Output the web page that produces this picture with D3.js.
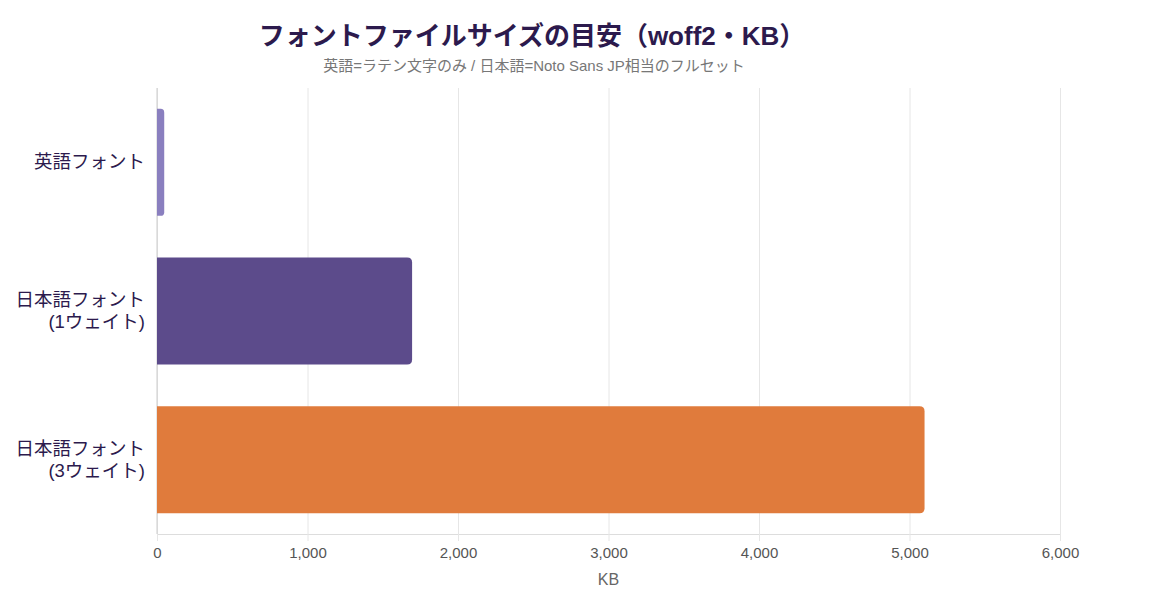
<!DOCTYPE html>
<html lang="ja">
<head>
<meta charset="UTF-8">
<title>フォントファイルサイズの目安</title>
<style>
    body {
        margin: 0;
        background: #fff;
        font-family: "Liberation Sans", Arial, "Noto Sans CJK JP", sans-serif;
    }
    .grid line { stroke: #e6e6e6; }
    .grid path { display: none; }
</style>
<script src="https://d3js.org/d3.v7.min.js"></script>
</head>
<body>
<svg id="chart" width="1150" height="600"></svg>
<script>
    // data
    const categories = [["英語フォント"], ["日本語フォント", "(1ウェイト)"], ["日本語フォント", "(3ウェイト)"]];
    const sizesKB = [48, 1695, 5100];
    const barColors = ["#8a7fbf", "#5c4b8b", "#e07b3c"];
    const xTicks = [0, 1000, 2000, 3000, 4000, 5000, 6000];

    const width = 1150, height = 600;
    const margin = { top: 88, right: 90, bottom: 66, left: 157 };
    const innerW = width - margin.left - margin.right;
    const innerH = height - margin.top - margin.bottom;

    const svg = d3.select("#chart");

    svg.append("text")
        .attr("x", 532).attr("y", 45)
        .attr("text-anchor", "middle")
        .attr("font-size", 26).attr("font-weight", "bold")
        .attr("fill", "#2c1a4d")
        .text("フォントファイルサイズの目安（woff2・KB）");

    svg.append("text")
        .attr("x", 534).attr("y", 71)
        .attr("text-anchor", "middle")
        .attr("font-size", 15)
        .attr("fill", "#777")
        .text("英語=ラテン文字のみ / 日本語=Noto Sans JP相当のフルセット");

    const g = svg.append("g").attr("transform", `translate(${margin.left},${margin.top})`);

    const x = d3.scaleLinear().domain([0, 6000]).range([0, innerW]);
    const y = d3.scaleBand()
        .domain(d3.range(categories.length))
        .range([0, innerH])
        .paddingInner(0.28)
        .paddingOuter(0.14);

    // vertical grid lines
    g.append("g").attr("class", "grid")
        .call(d3.axisBottom(x).tickValues(xTicks).tickSize(innerH).tickFormat(""));

    // x axis
    const xAxis = g.append("g")
        .attr("transform", `translate(0,${innerH})`)
        .call(d3.axisBottom(x).tickValues(xTicks).tickSize(7).tickPadding(6).tickFormat(d3.format(",")));
    xAxis.select(".domain").attr("stroke", "#ddd");
    xAxis.selectAll(".tick line").attr("stroke", "#e6e6e6");
    xAxis.selectAll(".tick text").attr("fill", "#555").attr("font-size", 15)
        .attr("font-family", "Liberation Sans, Arial, sans-serif");

    svg.append("text")
        .attr("x", margin.left + x(3000)).attr("y", 585)
        .attr("text-anchor", "middle")
        .attr("font-size", 16).attr("fill", "#666")
        .text("KB");

    // y axis line
    g.append("line")
        .attr("x1", 0).attr("x2", 0).attr("y1", 0).attr("y2", innerH)
        .attr("stroke", "#ccc");

    // y labels
    const labels = g.append("g").selectAll("text")
        .data(categories)
        .join("text")
        .attr("text-anchor", "end")
        .attr("font-size", 18.5)
        .attr("fill", "#2c1a4d")
        .attr("x", -12)
        .attr("y", (d, i) => y(i) + y.bandwidth() / 2 - (d.length - 1) * 11 + 6);
    labels.selectAll("tspan")
        .data(d => d)
        .join("tspan")
        .attr("x", -12)
        .attr("dy", (d, i) => i === 0 ? 0 : 22)
        .text(d => d);

    // bars with rounded right end
    const r = 5;
    function barPath(i) {
        const x0 = x(0), x1 = x(sizesKB[i]);
        const y0 = y(i), y1 = y(i) + y.bandwidth();
        const rr = Math.min(r, (x1 - x0) / 2);
        return `M${x0},${y0} H${x1 - rr} Q${x1},${y0} ${x1},${y0 + rr} V${y1 - rr} Q${x1},${y1} ${x1 - rr},${y1} H${x0} Z`;
    }
    g.append("g").selectAll("path")
        .data(sizesKB)
        .join("path")
        .attr("d", (d, i) => barPath(i))
        .attr("fill", (d, i) => barColors[i]);
</script>
</body>
</html>
